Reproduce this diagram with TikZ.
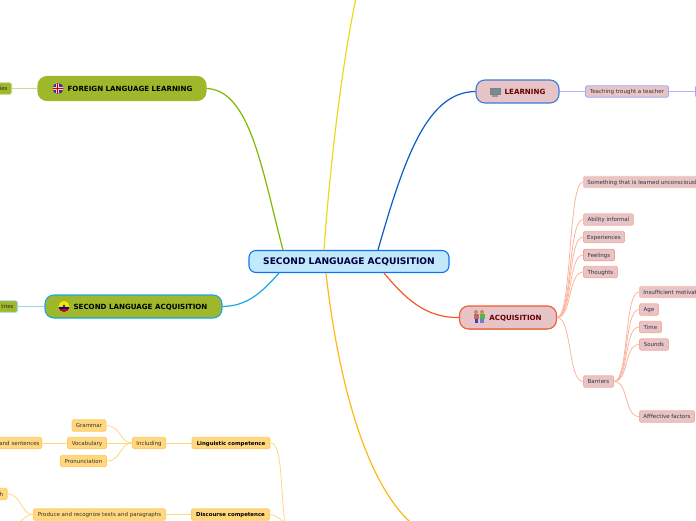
\documentclass[tikz,border=0pt]{standalone}
\usepackage{fontspec}
\setmainfont{DejaVu Sans}
\definecolor{cGreen}{HTML}{9FB82B}
\definecolor{cBlue}{HTML}{0B5CC9}
\definecolor{cRed}{HTML}{F4592B}
\definecolor{cOlive}{HTML}{7FB800}
\definecolor{cCyan}{HTML}{1AA6E6}
\definecolor{cYel}{HTML}{EFD81C}
\definecolor{cOr}{HTML}{FDB813}
\definecolor{cPink}{HTML}{E6C4C8}
\definecolor{cPeach}{HTML}{FFD77F}
\definecolor{cPeachE}{HTML}{FFCB66}
\definecolor{cRoot}{HTML}{C2E8FB}
\tikzset{
 x=1pt,y=-1pt,
 main/.style={draw=#1,line width=1.1pt,rounded corners=9pt,inner sep=0pt,align=center,text height=5.2pt,text depth=0pt,font=\fontsize{7.1}{8}\selectfont\bfseries},
 small/.style={line width=.9pt,rounded corners=1.5pt,inner sep=0pt,minimum height=11.5pt,text height=4pt,text depth=0pt,font=\fontsize{5.5}{6}\selectfont},
 sub/.style={small,draw=#1,fill=cPink,text=black!80},
 ysub/.style={small,draw=cPeachE,fill=cPeach,text=black!80},
 ybold/.style={ysub,font=\fontsize{5.4}{6}\selectfont\bfseries,text=black},
 gsub/.style={small,draw=#1,fill=cGreen,text=black!85},
 redl/.style={draw=cRed!45,line width=.8pt},
 yell/.style={draw=cPeach,line width=.8pt},
 branch/.style={line width=1.2pt},
}
\begin{document}
\begin{tikzpicture}
\useasboundingbox (0,0) rectangle (696,520);
\clip (0,0) rectangle (696,520);
% nodes
\node[main=cCyan!70!blue,fill=cRoot,minimum width=200pt,minimum height=22pt,text=blue!25!black,text height=6.6pt,font=\fontsize{9.1}{10}\selectfont\bfseries,rounded corners=7pt] (root) at (349,261.5) {SECOND LANGUAGE ACQUISITION};
\node[main=cGreen,fill=cGreen,minimum width=168pt,minimum height=24pt,text=black] (fll) at (122,88.5) {\hspace{16pt}FOREIGN LANGUAGE LEARNING};
\node[main=cCyan,fill=cGreen,minimum width=177pt,minimum height=23pt,text=black] (sla) at (133.5,306.5) {\hspace{14pt}SECOND LANGUAGE ACQUISITION};
\node[main=cBlue!80,fill=cPink,minimum width=83pt,minimum height=23pt,text=red!40!black] (lea) at (517.5,91.5) {\hspace{15pt}LEARNING};
\fill[black!35] (469,307.5) rectangle (547,329.5) (460,318) rectangle (556,321);
\node[main=cRed,fill=cPink,minimum width=97pt,minimum height=23pt,text=red!40!black] (acq) at (508,317.5) {\hspace{15pt}ACQUISITION};
% left stubs
\node[gsub=cOlive!50,anchor=east,minimum width=30pt,text width=22pt,align=right] (c1) at (12,88.5) {ies};
\node[gsub=cCyan!40,anchor=east,minimum width=30pt,text width=22pt,align=right] (c2) at (18,306.5) {tries};
% right, learning
\node[sub=blue!35,minimum width=83pt] (teach) at (627,91.5) {Teaching trought a teacher};
\node[sub=blue!35,anchor=west,minimum width=20pt] (lx) at (695,91.5) {};
% acquisition
\node[sub=cRed!35,anchor=west,minimum width=125pt,text width=117pt,align=left] (a1) at (583,182) {Something that is learned unconsciousl};
\node[sub=cRed!45,anchor=west,minimum width=50pt] (a2) at (583,219.5) {Ability informal};
\node[sub=cRed!50,anchor=west,minimum width=41pt] (a3) at (583,237) {Experiences};
\node[sub=cRed!60,anchor=west,minimum width=31pt] (a4) at (583,255) {Feelings};
\node[sub=cRed!50,anchor=west,minimum width=34pt] (a5) at (583,272) {Thoughts};
\node[sub=cRed!50,anchor=west,minimum width=30pt] (bar) at (583,381.5) {Barriers};
\node[sub=cRed!35,anchor=west,minimum width=70pt,text width=62pt,align=left] (b1) at (639,292) {Insufficient motivat};
\node[sub=cRed!50,anchor=west,minimum width=19pt] (b2) at (639,309.5) {Age};
\node[sub=cRed!50,anchor=west,minimum width=22pt] (b3) at (639,327) {Time};
\node[sub=cRed!50,anchor=west,minimum width=29pt] (b4) at (639,344.5) {Sounds};
\node[sub=cRed!50,anchor=west,minimum width=55pt] (b5) at (639,416.5) {Afffective factors};
% yellow branch
\node[ybold,minimum width=78pt] (lin) at (231,443) {Linguistic competence};
\node[ybold,minimum width=78pt] (dis) at (230.5,514.5) {Discourse competence};
\node[ysub,minimum width=33pt] (inc) at (149,443) {Including};
\node[ysub,minimum width=34pt] (gra) at (89,425.5) {Grammar};
\node[ysub,minimum width=39pt] (voc) at (87,443) {Vocabulary};
\node[ysub,minimum width=46pt] (pro) at (83.5,461) {Pronunciation};
\node[ysub,anchor=east,minimum width=70pt,text width=66pt,align=right] (sen) at (42,443) {and sentences};
\node[ysub,minimum width=132pt] (tex) at (99.5,514.5) {Produce and recognize texts and paragraphs};
\node[ysub,anchor=east,minimum width=30pt,text width=22pt,align=right] (bth) at (7.5,494) {h};
\coordinate (top) at (356,-2);
\coordinate (bot) at (410,522);
\coordinate (lnk) at (285,524);
\coordinate (tx2) at (20,522);
% main branches
\draw[cOlive,branch] (fll.east) ..controls (250,90) and (262,170) .. (root.north -| 283,250);
\draw[cCyan,branch] (sla.east) ..controls (248,306) and (262,292) .. (root.south -| 279,273);
\draw[cBlue,branch] (lea.west) ..controls (428,92) and (405,155) .. (root.north -| 378,250);
\draw[cRed,branch] (acq.west) ..controls (425,318) and (405,298) .. (root.south -| 384,273);
\draw[cYel,branch] (root.north -| 324,250) ..controls (332,140) and (345,50) .. (top);
\draw[cOr,branch] (root.south -| 326,273) ..controls (338,380) and (365,480) .. (bot);
% straight stubs
\draw[cOlive!45,line width=.9pt] (c1.east) -- (fll.west);
\draw[cCyan!45,line width=.9pt] (c2.east) -- (sla.west);
\draw[blue!30,line width=.9pt] (lea.east) -- (teach.west);
\draw[blue!30,line width=.9pt] (teach.east) -- (lx.west);
% acquisition fan
\foreach \n in {a1,a2,a3,a4,a5,bar}{
 \draw[redl] (acq.east) ..controls +(15,0) and +(-15,0) .. (\n.west);
}
\foreach \n in {b1,b2,b3,b4,b5}{
 \draw[redl] (bar.east) ..controls +(15,0) and +(-15,0) .. (\n.west);
}
% yellow links
\draw[yell] (inc.east) -- (lin.west);
\draw[yell] (dis.west) -- (tex.east);
\draw[yell] (voc.east) -- (inc.west);
\draw[yell] (sen.east) -- (voc.west);
\draw[yell] (gra.east) ..controls +(14,0) and +(-12,0) .. (inc.west);
\draw[yell] (pro.east) ..controls +(14,0) and +(-12,0) .. (inc.west);
\draw[yell] (bth.east) ..controls +(14,0) and +(-12,0) .. (tex.west);
\draw[yell] (tex.west) ..controls +(-6,0) and +(3,-3) .. (tx2);
\draw[yell] (lin.east) ..controls +(12,0) and +(-5,-40) .. (lnk);
\draw[yell] (dis.east) ..controls +(5,0) and +(-3,-4) .. (lnk);
% icons
\begin{scope}
\clip (58,88.5) circle (5.5);
\fill[blue!55!black!80] (52,83) rectangle (64,94);
\fill[white!80!red] (56,83) rectangle (59,94); \fill[white!80!red] (52,87) rectangle (64,90);
\fill[red!80!black] (56.8,83) rectangle (58.2,94); \fill[red!80!black] (52,87.8) rectangle (64,89.2);
\end{scope}
\begin{scope}
\clip (64,306.5) circle (5.5);
\fill[yellow!85!orange] (58,301) rectangle (70,306.5);
\fill[blue!70!black] (58,306.5) rectangle (70,309);
\fill[red!80!black] (58,309) rectangle (70,312);
\fill[green!30!black] (64,306) circle (1.3);
\end{scope}
\fill[black!50] (489.5,87.5) rectangle (500.5,95);
\fill[black!65!cyan!70!white] (490.5,88.5) rectangle (499.5,94);
\fill[black!40] (492,95) rectangle (498,96.5);
\fill[orange!70!black!70] (476,312) circle (2);
\fill[orange!70!black!70] (482,312) circle (2);
\fill[red!60!black!60] (473.5,314) rectangle (478.5,319);
\fill[green!60!black!70] (479.5,314) rectangle (484.5,319);
\fill[blue!50!gray] (474.5,319) rectangle (478,323);
\fill[blue!50!gray!70] (480,319) rectangle (484,323);
\end{tikzpicture}
\end{document}
